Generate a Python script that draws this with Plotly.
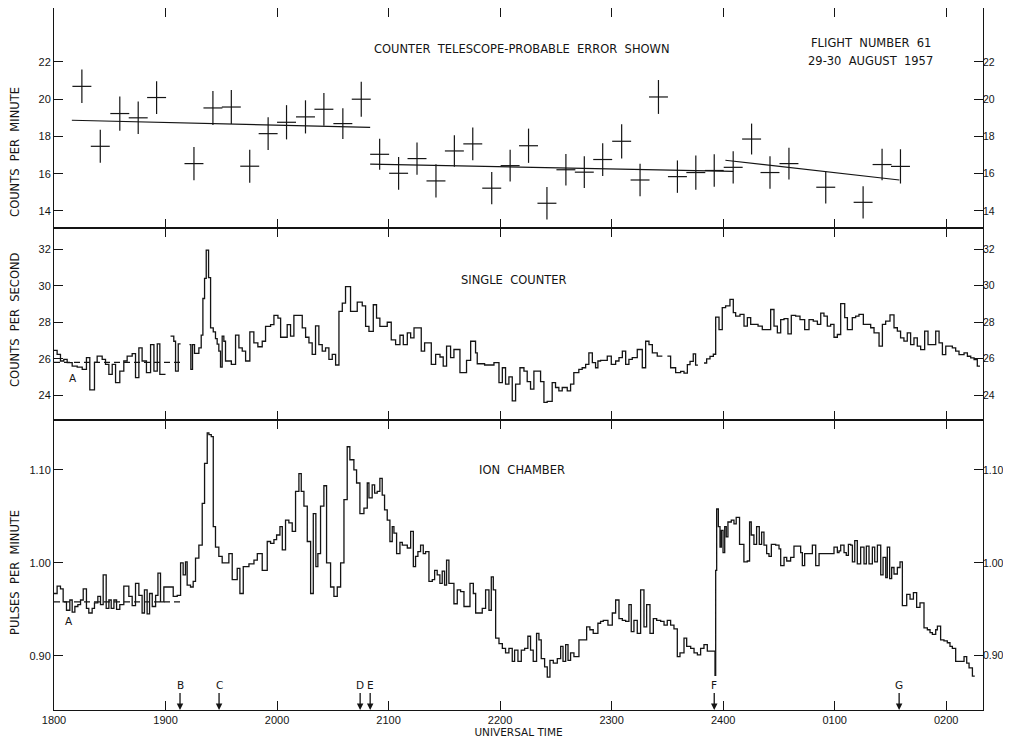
import plotly.graph_objects as go

# ---------------- axis labels ----------------
HOUR_POS = [0, 1, 2, 3, 4, 5, 6, 7, 8]          # hours after 1800 UT
HOUR_LABELS = ["1800", "1900", "2000", "2100", "2200", "2300", "2400", "0100", "0200"]
TEL_TICKS = [14, 16, 18, 20, 22]
SC_TICKS = [24, 26, 28, 30, 32]
ION_TICKS = [0.90, 1.00, 1.10]

# ---------------- counter telescope (10-min counts, probable error) ----------------
tel_t = [0.25, 0.415, 0.59, 0.755, 0.92, 1.255, 1.425, 1.59, 1.755, 1.92, 2.085, 2.255, 2.42,
         2.59, 2.755, 2.92, 3.09, 3.255, 3.425, 3.59, 3.755, 3.925, 4.09, 4.255, 4.42, 4.59,
         4.755, 4.92, 5.09, 5.255, 5.42, 5.59, 5.755, 5.92, 6.09, 6.255, 6.42, 6.59, 6.92,
         7.255, 7.425, 7.59]
tel_v = [20.69, 17.47, 19.23, 19.0, 20.09, 16.54, 19.53, 19.58, 16.4, 18.15, 18.76, 19.05, 19.46,
         18.69, 20.0, 17.04, 16.02, 16.81, 15.61, 17.22, 17.6, 15.22, 16.43, 17.5, 14.41, 16.21,
         16.08, 16.76, 17.74, 15.66, 20.12, 15.84, 16.06, 16.17, 16.34, 17.86, 16.06, 16.54, 15.27,
         14.46, 16.49, 16.39]
tel_err = [0.90, 0.89, 0.92, 0.87, 0.88, 0.89, 0.91, 0.91, 0.89, 0.88, 0.92, 0.89, 0.88,
           0.83, 0.94, 0.83, 0.88, 0.87, 0.89, 0.85, 0.88, 0.87, 0.85, 0.92, 0.87, 0.85,
           0.85, 0.88, 0.92, 0.87, 0.91, 0.87, 0.92, 0.87, 0.87, 0.83, 0.87, 0.85, 0.87,
           0.87, 0.85, 0.92]
tel_interval_half = 0.085  # half of the 10-minute counting interval, hours

fit1_t = [0.16, 2.835]
fit1_v = [18.87, 18.49]
fit2_t = [2.835, 6.09]
fit2_v = [16.51, 16.12]
fit3_t = [6.02, 7.58]
fit3_v = [16.72, 15.66]

# ---------------- single counter (counts per second) ----------------
sc1_t = [0.0, 0.028, 0.058, 0.088, 0.118, 0.163, 0.208, 0.253, 0.291, 0.321, 0.363, 0.387, 0.432,
         0.462, 0.492, 0.522, 0.552, 0.590, 0.626, 0.656, 0.701, 0.731, 0.761, 0.790, 0.829,
         0.866, 0.896, 0.926, 0.949]
sc1_v = [26.46, 26.24, 25.88, 25.97, 25.79, 25.6, 25.55, 25.42, 26.06, 24.3, 25.8, 26.15, 25.97,
         25.7, 25.15, 25.7, 24.7, 25.33, 25.88, 26.15, 26.28, 24.97, 26.6, 25.88, 25.24,
         26.78, 25.33, 26.82, 25.15]
sc1_end = 1.0

sc2_t = [1.045, 1.074, 1.090, 1.114]
sc2_v = [27.24, 26.96, 25.33, 26.82]
sc2_end = 1.135

sc3_t = [1.215, 1.227, 1.242, 1.260, 1.299, 1.320, 1.335, 1.350, 1.365, 1.386, 1.404, 1.428,
         1.448, 1.463, 1.478, 1.493, 1.508, 1.523, 1.538, 1.590, 1.628, 1.658, 1.688, 1.718,
         1.756, 1.792, 1.828, 1.867, 1.897, 1.942, 1.972, 2.008, 2.032, 2.091, 2.121, 2.151,
         2.226, 2.256, 2.286, 2.315, 2.345, 2.375, 2.405, 2.435, 2.465, 2.495, 2.525, 2.555,
         2.585, 2.614, 2.659, 2.719, 2.764, 2.794, 2.824, 2.863, 2.892, 2.922, 2.988, 3.024,
         3.063, 3.102, 3.132, 3.168, 3.198, 3.228, 3.293, 3.323, 3.383, 3.422, 3.461, 3.490,
         3.520, 3.556, 3.586, 3.640, 3.699, 3.736, 3.780, 3.795, 3.861, 3.945, 3.990, 4.020,
         4.049, 4.079, 4.109, 4.139, 4.178, 4.214, 4.243, 4.273, 4.303, 4.363, 4.393, 4.422,
         4.467, 4.497, 4.527, 4.557, 4.602, 4.632, 4.661, 4.706, 4.736, 4.767, 4.796, 4.827,
         4.856, 4.877, 4.901, 4.961, 4.997, 5.036, 5.066, 5.096, 5.126, 5.155, 5.185, 5.230,
         5.275, 5.305, 5.335, 5.365, 5.409]
sc3_v = [26.78, 25.42, 26.78, 26.3, 26.6, 27.3, 29.3, 30.4, 31.95, 30.44, 27.69, 27.47,
         27.1, 26.8, 26.42, 25.55, 27.24, 26.96, 25.88, 25.7, 27.3, 26.6, 26.42, 25.88,
         27.47, 26.87, 26.66, 26.96, 27.78, 27.87, 28.38, 28.23, 27.18, 27.87, 27.24, 28.38,
         27.69, 27.18, 26.87, 26.24, 27.8, 26.78, 26.42, 26.6, 25.97, 26.24, 25.66, 28.6,
         29.05, 29.95, 28.6, 29.1, 28.9, 27.78, 27.5, 28.96, 28.23, 27.78, 28.0, 27.04,
         26.78, 27.29, 26.78, 27.42, 27.15, 27.69, 26.42, 26.87, 25.7, 26.24, 26.1, 25.6,
         26.69, 26.06, 26.51, 25.24, 25.91, 26.96, 26.33, 25.73, 25.66, 25.79, 24.7, 25.51,
         24.61, 25.01, 23.7, 24.61, 25.51, 25.33, 24.75, 24.34, 25.33, 24.75, 23.61, 23.67,
         24.7, 24.43, 24.25, 24.43, 24.25, 24.61, 25.24, 25.42, 25.51, 25.7, 26.33, 25.79,
         25.51, 25.88, 25.91, 26.15, 25.7, 25.88, 26.06, 26.42, 25.7, 25.97, 26.06, 26.51,
         25.51, 26.96, 26.78, 26.33, 26.15]
sc3_end = 5.455

sc4_t = [5.500, 5.529, 5.574, 5.619, 5.649, 5.679, 5.703, 5.732, 5.753]
sc4_v = [26.15, 25.51, 25.24, 25.31, 25.22, 25.68, 25.86, 26.27, 25.65]
sc4_end = 5.774

sc5_t = [5.828, 5.852, 5.882, 5.912, 5.933, 5.963, 5.992, 6.022, 6.061, 6.091, 6.112, 6.151,
         6.187, 6.217, 6.247, 6.313, 6.351, 6.426, 6.456, 6.486, 6.516, 6.546, 6.581, 6.611,
         6.650, 6.689, 6.731, 6.770, 6.808, 6.845, 6.875, 6.904, 6.934, 6.964, 6.994, 7.024,
         7.054, 7.090, 7.114, 7.158, 7.188, 7.218, 7.257, 7.323, 7.353, 7.398, 7.428, 7.457,
         7.496, 7.532, 7.562, 7.591, 7.621, 7.651, 7.681, 7.711, 7.741, 7.771, 7.807, 7.837,
         7.906, 7.936, 7.966, 7.996, 8.055, 8.085, 8.115, 8.160, 8.190, 8.220, 8.250, 8.279]
sc5_v = [25.77, 26.0, 26.13, 26.25, 28.28, 27.6, 28.8, 28.9, 29.25, 28.53, 28.34, 28.43,
         27.79, 28.25, 27.88, 27.79, 27.6, 28.7, 27.79, 27.42, 28.15, 28.2, 27.36, 28.38,
         28.34, 28.15, 27.6, 28.15, 28.06, 27.88, 28.5, 28.34, 27.79, 27.88, 27.18, 27.33,
         29.02, 28.25, 27.6, 28.25, 28.34, 28.43, 27.88, 27.7, 27.42, 26.69, 27.88, 28.06,
         28.4, 27.7, 27.51, 27.15, 26.97, 27.42, 26.78, 27.15, 26.69, 26.5, 27.51, 26.78,
         27.51, 26.87, 26.23, 26.69, 26.6, 26.42, 26.23, 26.33, 26.14, 26.05, 25.96, 25.6]
sc5_end = 8.303

sc_base_t = [0.0, 1.13]
sc_base_v = [25.8, 25.8]

# ---------------- ion chamber (pulses per minute) ----------------
ion_t = [0.0, 0.028, 0.058, 0.082, 0.112, 0.142, 0.163, 0.187, 0.214, 0.238, 0.262, 0.291, 0.312,
         0.342, 0.363, 0.393, 0.417, 0.441, 0.468, 0.492, 0.513, 0.537, 0.561, 0.590, 0.626,
         0.671, 0.701, 0.731, 0.761, 0.790, 0.811, 0.835, 0.857, 0.881, 0.911, 0.932, 0.955,
         0.985, 1.069, 1.105, 1.135, 1.158, 1.179, 1.194, 1.224, 1.248, 1.269, 1.299, 1.329,
         1.350, 1.374, 1.389, 1.410, 1.428, 1.448, 1.478, 1.508, 1.568, 1.598, 1.643, 1.667,
         1.697, 1.748, 1.793, 1.823, 1.867, 1.912, 1.942, 1.972, 1.996, 2.026, 2.047, 2.076,
         2.106, 2.136, 2.166, 2.196, 2.217, 2.241, 2.271, 2.301, 2.325, 2.348, 2.366, 2.390,
         2.420, 2.444, 2.480, 2.510, 2.540, 2.570, 2.600, 2.629, 2.653, 2.689, 2.713, 2.743,
         2.779, 2.809, 2.824, 2.853, 2.875, 2.898, 2.922, 2.943, 2.964, 2.988, 3.012, 3.033,
         3.048, 3.072, 3.102, 3.123, 3.168, 3.198, 3.222, 3.242, 3.263, 3.287, 3.311, 3.332,
         3.362, 3.392, 3.413, 3.436, 3.460, 3.481, 3.502, 3.520, 3.541, 3.586, 3.616, 3.646,
         3.676, 3.730, 3.760, 3.781, 3.840, 3.870, 3.900, 3.921, 3.939, 3.960, 3.990, 4.020,
         4.049, 4.079, 4.109, 4.130, 4.160, 4.190, 4.220, 4.249, 4.273, 4.297, 4.327, 4.348,
         4.369, 4.399, 4.423, 4.447, 4.477, 4.513, 4.543, 4.564, 4.588, 4.609, 4.632, 4.662,
         4.707, 4.776, 4.805, 4.835, 4.877, 4.901, 4.925, 4.967, 5.006, 5.036, 5.066, 5.096,
         5.126, 5.155, 5.176, 5.200, 5.230, 5.260, 5.290, 5.314, 5.344, 5.374, 5.404, 5.440,
         5.470, 5.499, 5.529, 5.559, 5.589, 5.613, 5.649, 5.673, 5.709, 5.739, 5.769, 5.798,
         5.828, 5.858, 5.927, 5.933, 5.942, 5.957, 5.972, 5.984, 5.999, 6.014, 6.028, 6.043,
         6.073, 6.097, 6.117, 6.147, 6.186, 6.216, 6.237, 6.252, 6.276, 6.300, 6.324, 6.345,
         6.366, 6.390, 6.411, 6.432, 6.471, 6.501, 6.516, 6.546, 6.570, 6.605, 6.635, 6.695,
         6.710, 6.731, 6.800, 6.830, 6.860, 6.994, 7.024, 7.039, 7.054, 7.084, 7.104, 7.123,
         7.144, 7.159, 7.180, 7.203, 7.233, 7.263, 7.284, 7.308, 7.338, 7.359, 7.383, 7.413,
         7.434, 7.458, 7.472, 7.493, 7.511, 7.532, 7.562, 7.586, 7.607, 7.646, 7.676, 7.706,
         7.735, 7.765, 7.801, 7.831, 7.855, 7.876, 7.906, 7.921, 7.950, 7.980, 8.010, 8.034,
         8.055, 8.085, 8.160, 8.184, 8.205, 8.235]
ion_v = [0.967, 0.975, 0.972, 0.958, 0.949, 0.960, 0.947, 0.953, 0.955, 0.960, 0.972, 0.951, 0.946,
         0.951, 0.957, 0.964, 0.955, 0.987, 0.951, 0.960, 0.951, 0.960, 0.950, 0.955, 0.975,
         0.964, 0.954, 0.978, 0.965, 0.946, 0.971, 0.945, 0.967, 0.953, 0.965, 0.989, 0.958,
         0.974, 0.964, 0.965, 1.000, 0.987, 1.001, 0.976, 0.974, 0.980, 1.005, 1.019, 1.064,
         1.107, 1.140, 1.138, 1.136, 1.039, 1.017, 1.007, 1.000, 1.010, 0.982, 0.994, 0.967,
         0.996, 0.999, 1.003, 1.010, 0.992, 1.023, 1.021, 1.025, 1.030, 1.039, 1.014, 1.046,
         1.043, 1.034, 1.077, 1.096, 1.077, 1.061, 1.023, 0.967, 1.053, 0.996, 1.010, 1.061,
         1.083, 1.000, 0.974, 0.964, 0.974, 1.000, 1.068, 1.125, 1.111, 1.100, 1.086, 1.053,
         1.059, 1.086, 1.070, 1.084, 1.075, 1.077, 1.091, 1.073, 1.057, 1.046, 1.023, 1.039,
         1.032, 1.010, 1.022, 1.019, 1.016, 1.034, 0.996, 1.007, 1.012, 1.019, 1.010, 1.012,
         0.980, 0.982, 0.992, 0.987, 0.978, 0.991, 0.976, 1.003, 0.978, 0.956, 0.971, 0.969,
         0.953, 0.978, 0.967, 0.946, 0.951, 0.971, 0.949, 0.985, 0.971, 0.919, 0.913, 0.908,
         0.903, 0.908, 0.894, 0.906, 0.894, 0.906, 0.908, 0.921, 0.906, 0.894, 0.924, 0.917,
         0.897, 0.888, 0.877, 0.895, 0.892, 0.897, 0.910, 0.894, 0.912, 0.895, 0.903, 0.899,
         0.917, 0.931, 0.928, 0.924, 0.935, 0.937, 0.938, 0.933, 0.946, 0.960, 0.940, 0.938,
         0.937, 0.955, 0.926, 0.938, 0.924, 0.971, 0.931, 0.955, 0.924, 0.940, 0.938, 0.937,
         0.933, 0.938, 0.933, 0.929, 0.899, 0.903, 0.919, 0.910, 0.908, 0.903, 0.901, 0.908,
         0.912, 0.905, 0.879, 0.992, 1.058, 1.039, 1.017, 1.035, 1.011, 1.039, 1.028, 1.044,
         1.046, 1.042, 1.049, 1.020, 1.001, 1.002, 1.044, 1.030, 1.020, 1.039, 1.020, 1.033,
         1.019, 1.010, 1.007, 1.020, 1.019, 1.015, 0.997, 1.006, 1.002, 1.006, 1.018, 1.011,
         0.997, 1.010, 1.019, 0.997, 1.010, 1.017, 1.011, 1.013, 1.019, 1.011, 1.008, 1.020,
         1.019, 1.001, 1.024, 0.999, 1.017, 0.999, 1.018, 0.999, 1.017, 1.001, 1.019, 0.987,
         1.006, 0.984, 1.017, 0.983, 0.995, 0.988, 0.995, 1.001, 0.954, 0.966, 0.961, 0.968,
         0.952, 0.957, 0.930, 0.928, 0.925, 0.923, 0.928, 0.932, 0.917, 0.916, 0.914, 0.910,
         0.908, 0.894, 0.899, 0.892, 0.887, 0.878]
ion_end = 8.256

ion_base_t = [0.0, 1.135]
ion_base_v = [0.958, 0.958]

# ---------------- event markers ----------------
event_labels = ["B", "C", "D", "E", "F", "G"]
event_t = [1.13, 1.48, 2.745, 2.835, 5.92, 7.578]

# =====================================================================
INK = "#141414"
FONT = "DejaVu Sans"
NUMFONT = "Liberation Sans"
XMAX = 8.33


def steps(*segments):
    xs, ys = [], []
    for starts, vals, end in segments:
        if xs:
            xs.append(None)
            ys.append(None)
        xs += list(starts) + [end]
        ys += list(vals) + [vals[-1]]
    return xs, ys


fig = go.Figure()

# panel 1: counter telescope crosses
fig.add_trace(go.Scatter(
    x=tel_t, y=tel_v, mode="markers", xaxis="x", yaxis="y",
    marker=dict(size=1, color=INK, opacity=0),
    error_y=dict(type="data", array=tel_err, visible=True, color=INK, thickness=1.2, width=0),
    error_x=dict(type="constant", value=tel_interval_half, visible=True, color=INK,
                 thickness=1.2, width=0),
    showlegend=False, hoverinfo="skip"))
for ft, fv in [(fit1_t, fit1_v), (fit2_t, fit2_v), (fit3_t, fit3_v)]:
    fig.add_trace(go.Scatter(x=ft, y=fv, mode="lines", xaxis="x", yaxis="y",
                             line=dict(color=INK, width=1.2), showlegend=False, hoverinfo="skip"))

# panel 2: single counter
sx, sy = steps((sc1_t, sc1_v, sc1_end), (sc2_t, sc2_v, sc2_end), (sc3_t, sc3_v, sc3_end),
               (sc4_t, sc4_v, sc4_end), (sc5_t, sc5_v, sc5_end))
fig.add_trace(go.Scatter(x=sx, y=sy, mode="lines", xaxis="x2", yaxis="y2",
                         line=dict(color=INK, width=1.3, shape="hv"), connectgaps=False,
                         showlegend=False, hoverinfo="skip"))
fig.add_trace(go.Scatter(x=sc_base_t, y=sc_base_v, mode="lines", xaxis="x2", yaxis="y2",
                         line=dict(color=INK, width=1.2, dash="6px,4px"),
                         showlegend=False, hoverinfo="skip"))

# panel 3: ion chamber
ix, iy = steps((ion_t, ion_v, ion_end))
fig.add_trace(go.Scatter(x=ix, y=iy, mode="lines", xaxis="x3", yaxis="y3",
                         line=dict(color=INK, width=1.3, shape="hv"),
                         showlegend=False, hoverinfo="skip"))
fig.add_trace(go.Scatter(x=ion_base_t, y=ion_base_v, mode="lines", xaxis="x3", yaxis="y3",
                         line=dict(color=INK, width=1.2, dash="6px,4px"),
                         showlegend=False, hoverinfo="skip"))

# empty traces so the right-hand axes are drawn
for xa, ya in [("x", "y4"), ("x2", "y5"), ("x3", "y6")]:
    fig.add_trace(go.Scatter(x=[None], y=[None], xaxis=xa, yaxis=ya, mode="lines",
                             showlegend=False, hoverinfo="skip"))

tick_font = dict(family=NUMFONT, size=11, color=INK)
rtick_font = dict(family=NUMFONT, size=10.5, color=INK)

xcommon = dict(range=[0, XMAX], tickvals=HOUR_POS, ticktext=HOUR_LABELS, ticks="inside",
               ticklen=9, tickwidth=1.2, tickcolor=INK, showline=True, linecolor=INK,
               linewidth=1.0, mirror="ticks", showgrid=False, zeroline=False,
               tickfont=tick_font)
ycommon = dict(ticks="inside", ticklen=9, tickwidth=1.2, tickcolor=INK, showline=True,
               linecolor=INK, linewidth=1.0, showgrid=False, zeroline=False,
               tickfont=tick_font)

# the page body adds an 8 px offset, so the figure is sized to fill the rest of the window
D1 = [0.6866, 1.0]
D2 = [0.4131, 0.6866]
D3 = [0.0, 0.4131]
R1 = [13.08, 24.9]
R2 = [22.65, 33.16]
R3 = [0.8416, 1.1538]

fig.update_layout(
    width=1003, height=732,
    margin=dict(l=46, r=28, t=0, b=30),
    paper_bgcolor="white", plot_bgcolor="white",
    showlegend=False,
    xaxis=dict(xcommon, anchor="y", showticklabels=False),
    xaxis2=dict(xcommon, anchor="y2", showticklabels=False, matches="x"),
    xaxis3=dict(xcommon, anchor="y3", showticklabels=True, matches="x",
                title=dict(text="UNIVERSAL TIME", font=dict(family=FONT, size=10.5, color=INK),
                           standoff=1)),
    yaxis=dict(ycommon, domain=D1, anchor="x", range=R1, tickvals=TEL_TICKS, mirror=True),
    yaxis2=dict(ycommon, domain=D2, anchor="x2", range=R2, tickvals=SC_TICKS, mirror=True),
    yaxis3=dict(ycommon, domain=D3, anchor="x3", range=R3, tickvals=ION_TICKS,
                tickformat=".2f", mirror=True),
    yaxis4=dict(ycommon, overlaying="y", side="right", anchor="x", range=R1,
                tickvals=TEL_TICKS, showline=False, tickfont=rtick_font, ticklabelstandoff=-1),
    yaxis5=dict(ycommon, overlaying="y2", side="right", anchor="x2", range=R2,
                tickvals=SC_TICKS, showline=False, tickfont=rtick_font, ticklabelstandoff=-1),
    yaxis6=dict(ycommon, overlaying="y3", side="right", anchor="x3", range=R3,
                tickvals=ION_TICKS, tickformat=".2f", showline=False, tickfont=rtick_font,
                ticklabelstandoff=-1),
)

txt = dict(family=FONT, size=11.5, color=INK)
ann = [
    dict(text="COUNTER  TELESCOPE-PROBABLE  ERROR  SHOWN", x=0.504, y=0.9416),
    dict(text="FLIGHT  NUMBER  61", x=0.879, y=0.950),
    dict(text="29-30  AUGUST  1957", x=0.879, y=0.9245),
    dict(text="SINGLE  COUNTER", x=0.495, y=0.6125),
    dict(text="ION  CHAMBER", x=0.504, y=0.342),
]
for a in ann:
    fig.add_annotation(xref="paper", yref="paper", showarrow=False, font=txt,
                       xanchor="center", yanchor="middle", **a)

for label, yc in [("COUNTS  PER  MINUTE", 0.795), ("COUNTS  PER  SECOND", 0.5556),
                  ("PULSES  PER  MINUTE", 0.1966)]:
    fig.add_annotation(text=label, xref="paper", yref="paper", x=-0.042, y=yc,
                       textangle=-90, showarrow=False, font=dict(family=FONT, size=11.5, color=INK),
                       xanchor="center", yanchor="middle")

fig.add_annotation(text="A", x=0.166, y=24.93, xref="x2", yref="y2", showarrow=False,
                   font=dict(family=FONT, size=10.5, color=INK))
fig.add_annotation(text="A", x=0.137, y=0.937, xref="x3", yref="y3", showarrow=False,
                   font=dict(family=FONT, size=10.5, color=INK))

for lab, t in zip(event_labels, event_t):
    fig.add_annotation(text=lab, x=t, y=0, xref="x3", yref="paper", showarrow=True,
                       ax=0, ay=-17, arrowhead=2, arrowsize=1, arrowwidth=1.3,
                       arrowcolor=INK, yanchor="bottom",
                       font=dict(family=FONT, size=10.5, color=INK))

fig.write_html("out.html")
